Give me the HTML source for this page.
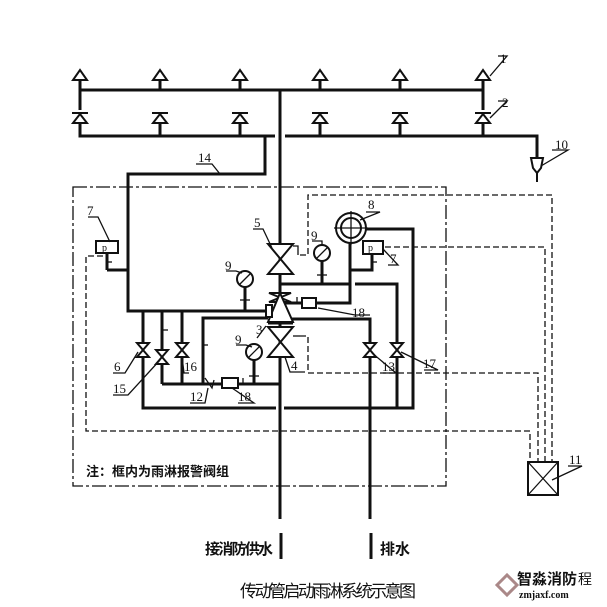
<!DOCTYPE html>
<html><head><meta charset="utf-8"><style>
html,body{margin:0;padding:0;background:#fff;}
svg{display:block;}
text{font-family:"Liberation Serif","Noto Serif CJK SC",serif;fill:#111;}
.c{font-family:"Liberation Sans","Noto Sans CJK SC",sans-serif;}
</style></head><body>
<svg width="607" height="607" viewBox="0 0 607 607" xmlns="http://www.w3.org/2000/svg">
<g stroke="#111" fill="none">
<rect x="73" y="187" width="373" height="299" stroke-width="1.3" stroke-dasharray="14,3,3,3"/>
<g stroke-width="1.3" stroke-dasharray="6,3">
<polyline points="103,256 86,256 86,431 530,431 530,462"/>
<polyline points="300,255 308,255 308,195 552,195 552,462"/>
<polyline points="385,247 545,247 545,462"/>
<polyline points="300,336 308,336 308,373 538,373 538,462"/>
</g>
<g stroke-width="3">
<polyline points="80,110 80,90 483,90 483,110"/>
<line x1="160" y1="90" x2="160" y2="80"/><line x1="240" y1="90" x2="240" y2="80"/>
<line x1="320" y1="90" x2="320" y2="80"/><line x1="400" y1="90" x2="400" y2="80"/>
<line x1="80" y1="90" x2="80" y2="80"/><line x1="483" y1="90" x2="483" y2="80"/>
<polyline points="80,123 80,136 275,136"/>
<polyline points="285,136 537,136 537,160"/>
<line x1="160" y1="123" x2="160" y2="136"/><line x1="240" y1="123" x2="240" y2="136"/>
<line x1="320" y1="123" x2="320" y2="136"/><line x1="400" y1="123" x2="400" y2="136"/>
<line x1="483" y1="123" x2="483" y2="136"/>
<line x1="280" y1="90" x2="280" y2="519"/>
<polyline points="265,136 265,174 128,174 128,311 268,311"/>
<line x1="107" y1="270" x2="128" y2="270"/>
<polyline points="203,384 203,318 268,318"/>
<polyline points="143,311 143,408 276,408"/>
<polyline points="284,408 413,408 413,229 366,229"/>
<line x1="162" y1="311" x2="162" y2="384"/>
<line x1="182" y1="311" x2="182" y2="384"/>
<line x1="162" y1="384" x2="280" y2="384"/>
<line x1="280" y1="284" x2="350" y2="284"/>
<polyline points="355,284 397,284 397,408"/>
<polyline points="280,303 350,303 350,243"/>
<polyline points="372,254 372,270 350,270"/>
<polyline points="292,319 370,319 370,519"/>
<line x1="245" y1="287" x2="245" y2="311"/>
<line x1="254" y1="360" x2="254" y2="384"/>
<line x1="322" y1="261" x2="322" y2="284"/>
<line x1="107" y1="253" x2="107" y2="270"/>
<line x1="281" y1="533" x2="281" y2="559"/>
<line x1="371" y1="533" x2="371" y2="559"/>
</g>
<g stroke-width="2" fill="#fff">
<polygon points="73,80 87,80 80,70"/><polygon points="153,80 167,80 160,70"/><polygon points="233,80 247,80 240,70"/>
<polygon points="313,80 327,80 320,70"/><polygon points="393,80 407,80 400,70"/><polygon points="476,80 490,80 483,70"/>
<g><line x1="72" y1="113" x2="88" y2="113"/><polygon points="73,123 87,123 80,114"/></g>
<g><line x1="152" y1="113" x2="168" y2="113"/><polygon points="153,123 167,123 160,114"/></g>
<g><line x1="232" y1="113" x2="248" y2="113"/><polygon points="233,123 247,123 240,114"/></g>
<g><line x1="312" y1="113" x2="328" y2="113"/><polygon points="313,123 327,123 320,114"/></g>
<g><line x1="392" y1="113" x2="408" y2="113"/><polygon points="393,123 407,123 400,114"/></g>
<g><line x1="475" y1="113" x2="491" y2="113"/><polygon points="476,123 490,123 483,114"/></g>
<path d="M531,158 L543,158 L541,168 L537,173 L533,168 Z"/>
<line x1="537" y1="173" x2="537" y2="182"/>
<polygon points="268,244 293,244 268,274 293,274"/>
<polygon points="269,293 291,293 269,302 291,302"/>
<polygon points="280,293 268,322 293,322"/>
<line x1="268" y1="323" x2="293" y2="323" stroke-width="3"/>
<polygon points="268,327 293,327 268,357 293,357"/>
<rect x="266" y="305" width="6" height="12"/>
<polygon points="137,343 149,343 137,357 149,357"/>
<polygon points="156,350 168,350 156,364 168,364"/>
<polygon points="176,343 188,343 176,357 188,357"/>
<polygon points="364,343 376,343 364,357 376,357"/>
<polygon points="391,343 403,343 391,357 403,357"/>
<circle cx="245" cy="279" r="8"/><circle cx="254" cy="352" r="8"/><circle cx="322" cy="253" r="8"/>
<circle cx="351" cy="228" r="15"/><circle cx="351" cy="228" r="10"/>
<rect x="96" y="241" width="22" height="12"/><rect x="363" y="241" width="20" height="13"/>
<rect x="302" y="298" width="14" height="10"/><rect x="222" y="378" width="16" height="10"/>
<rect x="528" y="462" width="30" height="33"/>
</g>
<g stroke-width="1.3">
<line x1="239" y1="285" x2="251" y2="273"/><line x1="248" y1="358" x2="260" y2="346"/><line x1="316" y1="259" x2="328" y2="247"/>
<line x1="334" y1="228" x2="368" y2="228"/><line x1="351" y1="211" x2="351" y2="245"/>
<line x1="528" y1="462" x2="558" y2="495"/><line x1="558" y1="462" x2="528" y2="495"/>
<polyline points="205,378 212,388 214,380"/>
<line x1="240" y1="300" x2="250" y2="300"/><line x1="249" y1="376" x2="259" y2="376"/><line x1="317" y1="275" x2="327" y2="275"/>
<line x1="163" y1="330" x2="168" y2="330"/><line x1="203" y1="345" x2="208" y2="345"/>
<line x1="297" y1="297" x2="297" y2="303"/><line x1="243" y1="378" x2="243" y2="384"/>
<line x1="107" y1="262" x2="112" y2="262"/><line x1="372" y1="262" x2="377" y2="262"/>
<polyline points="293,246 298,246 298,255"/><polyline points="293,336 300,336"/>
<polyline points="498,56 507,56 490,76"/><polyline points="498,101 507,101 490,118"/>
<polyline points="552,150 568,150 541,166"/><polyline points="196,164 212,164 220,174"/>
<polyline points="88,217 98,217 110,242"/><polyline points="253,229 263,229 272,248"/>
<polyline points="366,212 380,212 360,220"/><polyline points="312,241 322,241 322,245"/>
<polyline points="226,271 236,271 242,273"/><polyline points="388,265 398,265 383,249"/>
<polyline points="370,315 355,315 318,308"/><polyline points="257,338 266,326"/>
<polyline points="236,345 246,345 252,347"/><polyline points="305,372 290,372 285,357"/>
<polyline points="113,373 125,373 138,352"/><polyline points="189,373 184,373 182,357"/>
<polyline points="113,395 128,395 160,360"/><polyline points="190,403 205,403 208,388"/>
<polyline points="238,403 254,403 232,388"/><polyline points="383,373 396,373 372,353"/>
<polyline points="424,370 438,370 401,352"/><polyline points="568,466 582,466 552,480"/>
</g>
</g>
<g font-size="13">
<text x="500" y="63">1</text><text x="502" y="107">2</text><text x="555" y="149">10</text>
<text x="198" y="162">14</text><text x="87" y="215">7</text><text x="254" y="227">5</text>
<text x="368" y="209">8</text><text x="311" y="240">9</text><text x="225" y="270">9</text>
<text x="390" y="263">7</text><text x="352" y="317">18</text><text x="256" y="334">3</text>
<text x="235" y="344">9</text><text x="291" y="370">4</text><text x="114" y="371">6</text>
<text x="184" y="371">16</text><text x="113" y="393">15</text><text x="190" y="401">12</text>
<text x="238" y="401">18</text><text x="382" y="371">13</text><text x="423" y="368">17</text>
<text x="569" y="464">11</text>
<text x="102" y="251" font-size="10">p</text><text x="368" y="251" font-size="10">p</text>
</g>
<text class="c" x="86" y="476" font-size="13" font-weight="bold">注：框内为雨淋报警阀组</text>
<text class="c" x="205" y="554" font-size="15" font-weight="bold" textLength="68">接消防供水</text>
<text class="c" x="380" y="554" font-size="15" font-weight="bold">排水</text>
<text class="c" x="240" y="597" font-size="17" textLength="176">传动管启动雨淋系统示意图</text>
<g>
<polygon points="497,585 507,575 517,585 507,595" fill="none" stroke="#a88" stroke-width="3"/>
<text class="c" x="517" y="584" font-size="15" font-weight="bold" fill="#333">智淼消防</text>
<text class="c" x="578" y="584" font-size="14" fill="#999">程</text>
<text x="519" y="598" font-size="10" font-family="Liberation Mono,monospace" font-weight="bold">zmjaxf.com</text>
</g>
</svg>
</body></html>
